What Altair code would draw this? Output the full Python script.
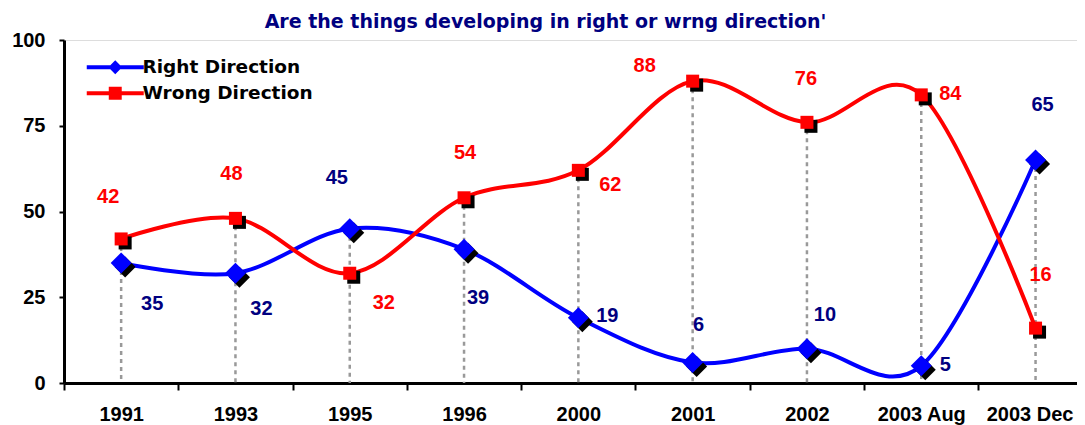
import json
import altair as alt
import pandas as pd

# ---------------- data ----------------
title_text = "Are the things developing in right or wrng direction'"
categories = ["1991", "1993", "1995", "1996", "2000", "2001", "2002", "2003 Aug", "2003 Dec"]
right_values = [35, 32, 45, 39, 19, 6, 10, 5, 65]
wrong_values = [42, 48, 32, 54, 62, 88, 76, 84, 16]
series_names = ["Right Direction", "Wrong Direction"]
y_ticks = [0, 25, 50, 75, 100]

# label placement (pixel offsets from the point, style only)
right_label_dx = [31, 26, -13, 14, 29, 6, 18, 24, 7]
right_label_dy = [41, 36, -51, 49, -2, -37, -34, -1, -55]
wrong_label_dx = [-13, -4, 34, 1, 32, -48, -1, 29, 5]
wrong_label_dy = [-42, -44, 30, -45, 15, -15, -43, -1, -53]

# ---------------- styles ----------------
BLUE = "#0000FF"
RED = "#FF0000"
NAVY = "#000080"
W, H = 1013, 343
BAND = 114.3
NUM_FONT = "Liberation Sans"
TXT_FONT = "DejaVu Sans"

rows = []
for i, c in enumerate(categories):
    rows.append({"idx": i, "cat": c, "value": right_values[i], "series": series_names[0]})
    rows.append({"idx": i, "cat": c, "value": wrong_values[i], "series": series_names[1]})
df = pd.DataFrame(rows)

drop_df = pd.DataFrame({
    "idx": list(range(len(categories))),
    "top": [max(r, w) for r, w in zip(right_values, wrong_values)],
})

x_max = -0.5 + W / BAND
label_expr = json.dumps(categories) + "[round(datum.value + 0.5)]"
last_edge = len(categories) - 1.5


def X():
    return alt.X(
        "idx:Q",
        title=None,
        scale=alt.Scale(domain=[-0.5, x_max], nice=False, zero=False),
        axis=alt.Axis(
            values=[i - 0.5 for i in range(len(categories))],
            labelExpr=label_expr,
            labelOffset={"condition": {"test": f"datum.value >= {last_edge}", "value": BAND / 2 - 6},
                         "value": BAND / 2},
            labelOverlap=False,
            labelFlush=False,
            labelBound=False,
            grid=False,
            domainColor="black",
            domainWidth=3,
            tickColor="black",
            tickWidth=2,
            tickSize=7,
            labelPadding=14,
            labelFont=NUM_FONT,
            labelFontSize=20,
            labelFontWeight="bold",
            labelColor="black",
        ),
    )


def Y(field="value:Q"):
    return alt.Y(
        field,
        title=None,
        scale=alt.Scale(domain=[0, 100], nice=False),
        axis=alt.Axis(
            values=y_ticks,
            grid=False,
            domainColor="black",
            domainWidth=3,
            tickColor="black",
            tickWidth=2,
            tickSize=5,
            labelPadding=14,
            labelFont=NUM_FONT,
            labelFontSize=20,
            labelFontWeight="bold",
            labelColor="black",
        ),
    )


base = alt.Chart(df)

layers = []

# drop lines
layers.append(
    alt.Chart(drop_df)
    .transform_calculate(zero="0")
    .mark_rule(color="#999999", strokeWidth=2.5, strokeDash=[4, 4])
    .encode(x=X(), y=Y("top:Q"), y2="zero:Q")
)

series_style = [
    (series_names[0], BLUE, "diamond", 440, NAVY, right_label_dx, right_label_dy),
    (series_names[1], RED, "square", 169, RED, wrong_label_dx, wrong_label_dy),
]

for name, col, shape, size, lcol, ldx, ldy in series_style:
    s = base.transform_filter(alt.datum.series == name)
    layers.append(
        s.mark_line(color=col, strokeWidth=4, interpolate="cardinal").encode(x=X(), y=Y())
    )

for name, col, shape, size, lcol, ldx, ldy in series_style:
    s = base.transform_filter(alt.datum.series == name)
    layers.append(
        s.mark_point(shape=shape, size=size, filled=True, color="black", opacity=1,
                     xOffset=4, yOffset=4).encode(x=X(), y=Y())
    )
    layers.append(
        s.mark_point(shape=shape, size=size, filled=True, color=col, opacity=1).encode(x=X(), y=Y())
    )

for name, col, shape, size, lcol, ldx, ldy in series_style:
    for i in range(len(categories)):
        layers.append(
            base.transform_filter((alt.datum.series == name) & (alt.datum.idx == i))
            .mark_text(dx=ldx[i], dy=ldy[i], color=lcol, font=NUM_FONT, fontSize=20,
                       fontWeight="bold", align="center", baseline="middle")
            .encode(x=X(), y=Y(), text="value:Q")
        )

# legend carrier layer
legend_paths = [
    "M-4.75,-0.33H4.75V0.33H-4.75Z M0,-1.15L1.15,0L0,1.15L-1.15,0Z",
    "M-4.75,-0.33H4.75V0.33H-4.75Z M-1.08,-1.08H1.08V1.08H-1.08Z",
]
legend_def = dict(title=None, orient="none", legendX=42, legendY=18,
                  symbolSize=144, symbolOpacity=1, symbolStrokeWidth=0,
                  labelFont=TXT_FONT, labelFontSize=18.5, labelLimit=400,
                  labelFontWeight="bold", labelColor="black",
                  labelOffset=18, rowPadding=7, padding=0)
layers.append(
    base.mark_point(filled=True, opacity=0).encode(
        x=X(),
        y=Y(),
        color=alt.Color("series:N", scale=alt.Scale(domain=series_names, range=[BLUE, RED]),
                        legend=alt.Legend(**legend_def)),
        shape=alt.Shape("series:N", scale=alt.Scale(domain=series_names, range=legend_paths),
                        legend=alt.Legend(**legend_def)),
    )
)

chart = (
    alt.layer(*layers)
    .properties(
        width=W,
        height=H,
        title=alt.TitleParams(title_text, font=TXT_FONT, fontSize=19, fontWeight="bold",
                              color=NAVY, anchor="middle", dx=-25, dy=10, offset=8),
        autosize=alt.AutoSizeParams(type="none"),
        padding={"left": 56, "top": 32, "right": 0, "bottom": 42},
    )
    .configure_view(stroke=None)
    .configure(background="white")
)

chart.save("out.html", embed_options={"renderer": "svg", "actions": False})
